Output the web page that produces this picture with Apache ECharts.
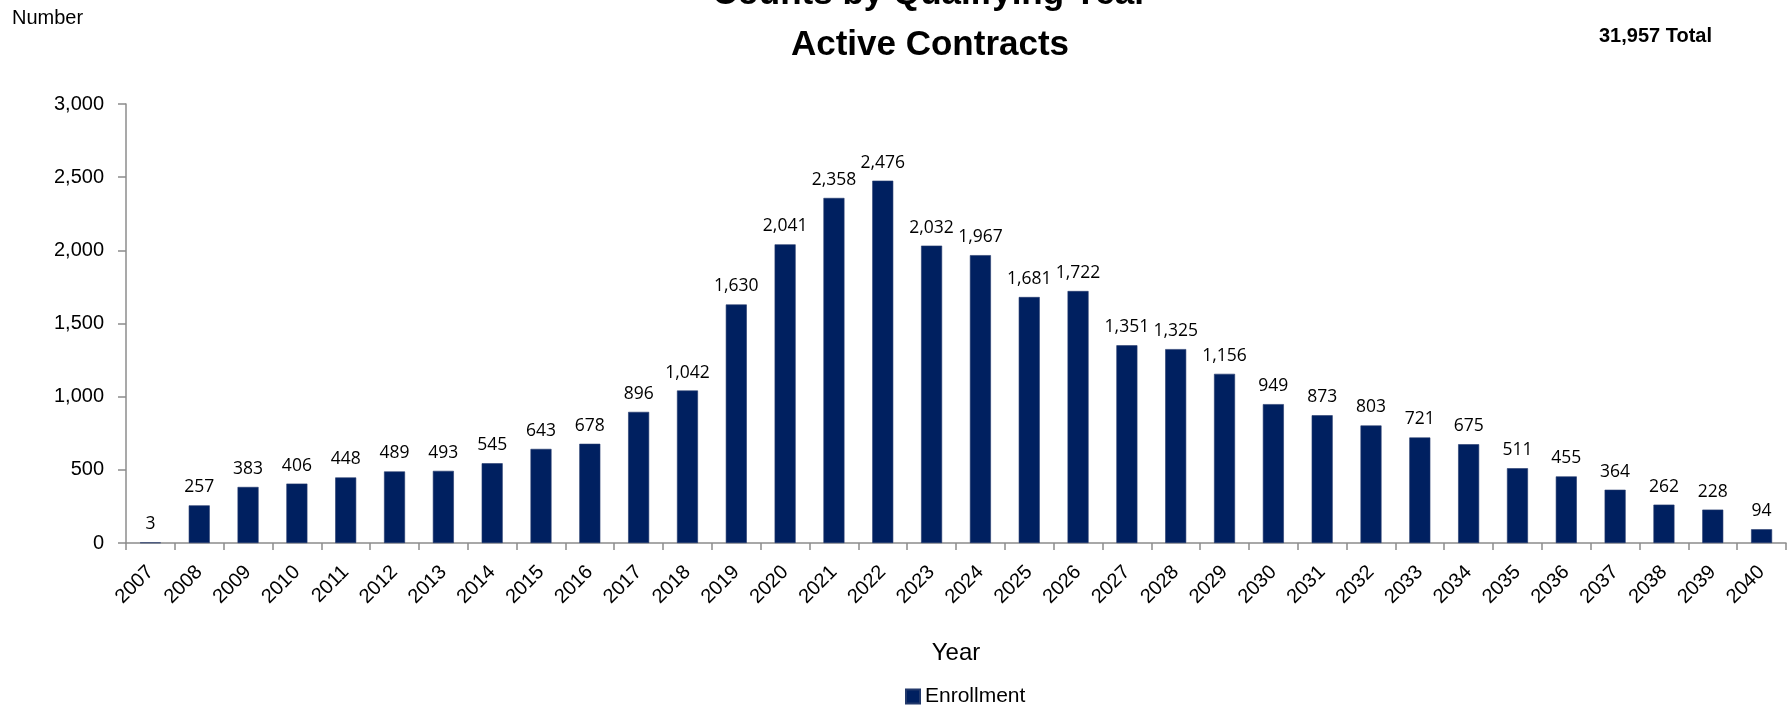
<!DOCTYPE html>
<html>
<head>
<meta charset="utf-8">
<script src="https://cdn.jsdelivr.net/npm/echarts@6/dist/echarts.min.js"></script>
<style>
  html, body { margin: 0; padding: 0; background: #ffffff; }
  #chart { width: 1788px; height: 715px; }
</style>
</head>
<body>
<div id="chart"></div>
<script>
// Qualifying years on the category axis
const years = [
  '2007', '2008', '2009', '2010', '2011', '2012', '2013', '2014', '2015', '2016',
  '2017', '2018', '2019', '2020', '2021', '2022', '2023', '2024', '2025', '2026',
  '2027', '2028', '2029', '2030', '2031', '2032', '2033', '2034', '2035', '2036',
  '2037', '2038', '2039', '2040'
];

// Enrollment counts per qualifying year
const enrollment = [
  3, 257, 383, 406, 448, 489, 493, 545, 643, 678,
  896, 1042, 1630, 2041, 2358, 2476, 2032, 1967, 1681, 1722,
  1351, 1325, 1156, 949, 873, 803, 721, 675, 511, 455,
  364, 262, 228, 94
];

// Value axis ticks
const yTicks = [0, 500, 1000, 1500, 2000, 2500, 3000];

const fmt = v => Number(v).toLocaleString('en-US');
const total = enrollment.reduce((a, b) => a + b, 0);

const axisGrey = '#8c8c8c';
const barColor = '#002060';
const baseFont = 'Liberation Sans';

const chart = echarts.init(document.getElementById('chart'), null, { renderer: 'canvas' });

chart.setOption({
  backgroundColor: '#ffffff',
  animation: false,
  title: [
    {
      text: 'Counts by Qualifying Year\nActive Contracts',
      left: 930,
      top: -31,
      padding: 0,
      textAlign: 'center',
      textStyle: {
        fontFamily: baseFont,
        fontWeight: 'bold',
        fontSize: 35,
        lineHeight: 51,
        color: '#000000'
      }
    },
    {
      text: 'Number',
      left: 12,
      top: 8,
      padding: 0,
      textStyle: { fontFamily: baseFont, fontWeight: 'normal', fontSize: 20, color: '#000000' }
    },
    {
      text: fmt(total) + ' Total',
      left: 1599,
      top: 26,
      padding: 0,
      textStyle: { fontFamily: baseFont, fontWeight: 'bold', fontSize: 20, color: '#000000' }
    }
  ],
  legend: {
    data: ['Enrollment'],
    left: 905,
    top: 686,
    padding: 0,
    icon: 'rect',
    itemWidth: 14,
    itemHeight: 14,
    itemGap: 7,
    textStyle: { fontFamily: baseFont, fontSize: 21, color: '#000000', padding: [0, 0, 0, 0] }
  },
  grid: {
    left: 126,
    right: 2,
    top: 104,
    bottom: 172,
    containLabel: false
  },
  xAxis: {
    type: 'category',
    data: years,
    boundaryGap: true,
    name: 'Year',
    nameLocation: 'middle',
    nameGap: 98,
    nameTextStyle: { fontFamily: baseFont, fontSize: 24, color: '#000000' },
    axisLine: { show: true, lineStyle: { color: axisGrey, width: 1.5 } },
    axisTick: { show: true, alignWithLabel: false, length: 7, lineStyle: { color: axisGrey, width: 1.5 } },
    axisLabel: {
      rotate: 45,
      margin: 26,
      interval: 0,
      fontFamily: baseFont,
      fontSize: 20,
      color: '#000000'
    },
    splitLine: { show: false }
  },
  yAxis: {
    type: 'value',
    min: yTicks[0],
    max: yTicks[yTicks.length - 1],
    interval: yTicks[1] - yTicks[0],
    axisLine: { show: true, lineStyle: { color: axisGrey, width: 1.5 } },
    axisTick: { show: true, length: 8, lineStyle: { color: axisGrey, width: 1.5 } },
    axisLabel: {
      margin: 22,
      fontFamily: baseFont,
      fontSize: 20,
      color: '#000000',
      formatter: v => fmt(v)
    },
    splitLine: { show: false }
  },
  series: [
    {
      name: 'Enrollment',
      type: 'bar',
      data: enrollment,
      barWidth: 21,
      itemStyle: { color: barColor, borderColor: '#23396b', borderWidth: 0.6 },
      label: {
        show: true,
        position: 'top',
        distance: 9,
        fontFamily: 'Open Sans',
        fontSize: 17.5,
        color: '#000000',
        formatter: p => fmt(p.value)
      }
    }
  ]
});
</script>
</body>
</html>
